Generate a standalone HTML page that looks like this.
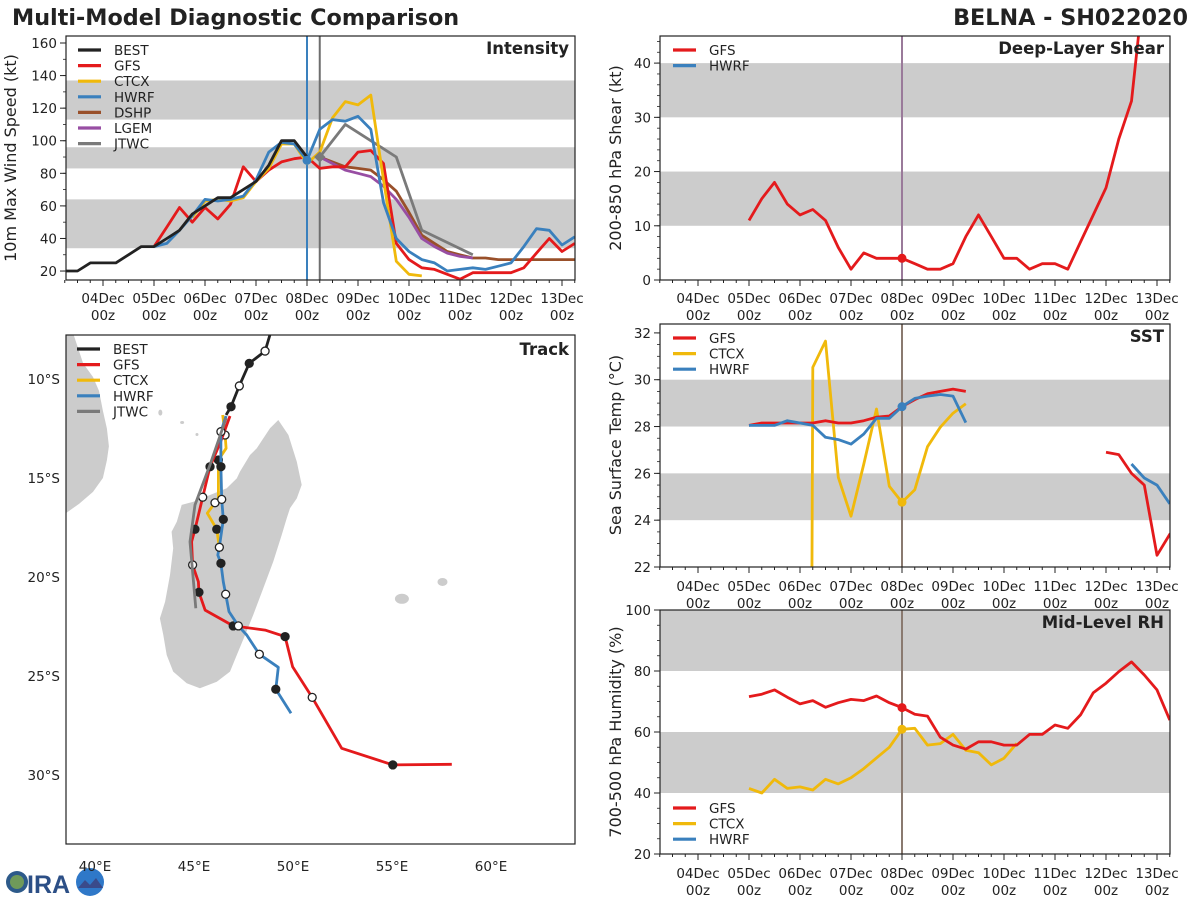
<!DOCTYPE html>
<html><head><meta charset="utf-8"><title>Multi-Model Diagnostic Comparison</title>
<style>
html,body{margin:0;padding:0;background:#fff;width:1200px;height:900px;overflow:hidden;}
svg{display:block;font-family:"DejaVu Sans","Liberation Sans",sans-serif;}
</style></head>
<body>
<svg id="chart" width="1200" height="900" viewBox="0 0 1200 900" xmlns="http://www.w3.org/2000/svg">
<text x="12" y="25" font-size="22.3" font-weight="bold" fill="#222">Multi-Model Diagnostic Comparison</text>
<text x="1188" y="25" font-size="22.3" font-weight="bold" fill="#222" text-anchor="end">BELNA - SH022020</text>
<g>
<circle cx="17" cy="882" r="11" fill="#2d5a8a"/>
<circle cx="17" cy="882" r="7" fill="#6f9a5a"/>
<text x="27" y="893" font-size="25" font-weight="bold" fill="#2c4f86" font-family="Liberation Sans, sans-serif">IRA</text>
<circle cx="90" cy="882" r="14" fill="#2f78c8"/>
<path d="M78 888 L85 880 L90 885 L96 878 L103 888 Z" fill="#3a4a8a"/>
</g>
</svg>
<script>
// ---------- DATA (hours from 03Dec 00z, 6-hourly values) ----------
const dayLabels = ["04Dec","05Dec","06Dec","07Dec","08Dec","09Dec","10Dec","11Dec","12Dec","13Dec"];
const dayHours = [24,48,72,96,120,144,168,192,216,240];
const initHour = 120;

const intTicks = [20,40,60,80,100,120,140,160];
const intBands = [[34,64],[83,96],[113,137]];
const bestStart = 6;
const bestVals = [20,20,25,25,25,30,35,35,40,45,55,60,65,65,70,75,85,100,100,90];
const gfsIntStart = 48;
const gfsIntVals = [35,47,59,50,59,52,61,84,75,82,87,89,90,83,84,84,93,94,86,37,27,22,21,18,15,19,19,19,19,22,31,40,32,37];
const ctcxIntStart = 66;
const ctcxIntVals = [53,63,64,63,65,75,83,98,98,86,93,114,124,122,128,76,26,18,17];
const hwrfIntStart = 48;
const hwrfIntVals = [35,37,45,54,64,63,64,66,76,93,99,98,88,107,113,112,115,107,62,40,32,27,25,20,21,22,21,23,25,35,46,45,36,41];
const dshpStart = 126;
const dshpVals = [90,87,84,83,82,76,69,56,42,37,32,30,28,28,27,27,27,27,27,27,27];
const lgemStart = 126;
const lgemVals = [90,86,82,80,78,72,64,53,40,35,31,29,28];
const jtwcHours = [126,138,150,162,174,198];
const jtwcVals = [90,110,100,90,45,30];

const shearTicks = [0,10,20,30,40];
const shearBands = [[10,20],[30,40]];
const gfsShearStart = 48;
const gfsShearVals = [11,15,18,14,12,13,11,6,2,5,4,4,4,3,2,2,3,8,12,8,4,4,2,3,3,2,7,12,17,26,33,55];

const sstTicks = [22,24,26,28,30,32];
const sstBands = [[24,26],[28,30]];
const gfsSstStart = 48;
const gfsSstVals = [28.05,28.15,28.15,28.15,28.15,28.15,28.25,28.15,28.15,28.25,28.4,28.45,28.85,29.15,29.4,29.5,29.6,29.5,null,null,null,null,null,null,null,null,null,null,26.9,26.8,26.0,25.5,22.5,23.4,23.1];
const hwrfSstStart = 48;
const hwrfSstVals = [28.05,28.05,28.05,28.25,28.15,28.05,27.54,27.44,27.25,27.68,28.35,28.35,28.85,29.2,29.3,29.37,29.3,28.17,null,null,null,null,null,null,null,null,null,null,null,null,26.4,25.8,25.5,24.7];
const ctcxSstStart = 72;
const ctcxSstVals = [-100,30.53,31.65,25.83,24.17,26.4,28.75,25.45,24.77,25.3,27.14,27.97,28.57,28.97];

const rhTicks = [20,40,60,80,100];
const rhBands = [[40,60],[80,100]];
const gfsRhStart = 48;
const gfsRhVals = [71.6,72.4,73.8,71.4,69.2,70.3,68.1,69.6,70.7,70.3,71.8,69.6,68,65.8,65.2,58.3,55.7,54.4,56.8,56.8,55.7,55.7,59.2,59.2,62.3,61.2,65.6,72.9,76,79.8,83,78.7,73.8,63.9];
const ctcxRhStart = 48;
const ctcxRhVals = [41.5,40,44.5,41.5,42,41,44.5,43,45,48,51.5,55,60.9,61.2,55.7,56.2,59.2,54,53.2,49.2,51.4,56.3];

const latTicks = [10,15,20,25,30];
const lonTicks = [40,45,50,55,60];
const bestLon = [48.94,48.59,47.79,47.29,46.87,46.62];
const bestLat = [7.42,8.59,9.21,10.35,11.40,11.82];
const bestMarks = [0,2,1,2,1,0];
const gfsLon = [46.82,46.36,45.81,45.44,45.05,44.88,44.93,45.22,45.25,45.56,46.98,48.59,49.60,49.98,50.97,52.46,55.04,58.02];
const gfsLat = [11.87,13.13,14.43,15.97,17.59,18.22,19.39,20.24,20.77,21.67,22.47,22.68,23.01,24.53,26.08,28.65,29.49,29.46];
const gfsMarks = [0,0,1,2,1,0,2,0,1,0,1,0,1,0,2,0,1,0];
const hwrfLon = [46.62,46.36,46.36,46.40,46.48,46.28,46.20,46.36,46.48,46.60,46.77,47.24,47.66,48.30,49.26,49.13,49.90];
const hwrfLat = [11.87,12.66,14.43,16.08,17.09,18.50,18.89,19.31,20.24,20.87,21.75,22.47,22.93,23.90,24.56,25.67,26.88];
const hwrfMarks = [0,2,1,2,1,2,0,1,0,2,0,2,0,2,0,1,0];
const ctcxLon = [46.45,46.57,46.62,46.23,46.23,46.06,45.67,46.15,46.28];
const ctcxLat = [11.82,12.83,13.50,14.09,16.02,16.25,16.78,17.59,18.50];
const ctcxMarks = [0,2,0,1,0,2,0,1,0];
const jtwcLon = [46.62,45.81,45.05,44.80,45.09];
const jtwcLat = [11.98,14.34,16.36,18.22,21.58];

const madaLon = [49.26,49.77,50.19,50.44,50.19,49.85,49.68,49.43,49.0,48.50,47.99,47.58,47.16,46.82,46.15,45.30,44.63,43.95,43.62,43.45,43.28,43.54,43.79,43.95,43.87,44.13,44.38,44.97,45.81,46.65,47.16,47.32,47.83,48.17,48.50,48.84];
const madaLat = [12.07,12.83,14.18,15.35,16.03,16.53,17.04,17.88,19.23,20.57,21.92,22.93,23.94,24.78,25.29,25.62,25.37,24.78,23.94,22.93,22.09,21.25,19.90,18.55,17.71,17.21,16.36,16.20,15.86,15.52,15.02,14.68,13.84,13.50,13.0,12.49];
const afrLon = [37.0,38.9,39.4,39.9,40.2,40.4,40.6,40.7,40.6,40.4,39.9,39.2,38.5,37.0];
const afrLat = [7.0,7.7,9.2,9.9,10.6,11.6,12.5,13.4,14.1,15.0,15.7,16.3,16.8,17.5];

// ---------- RENDER ----------
const NS = 'http://www.w3.org/2000/svg';
const svg = document.getElementById('chart');
function mk(tag, attrs, parent){
  const e = document.createElementNS(NS, tag);
  for (const k in attrs) e.setAttribute(k, attrs[k]);
  (parent || svg).appendChild(e);
  return e;
}
const C = {best:'#222222', gfs:'#e41a1c', ctcx:'#f0b90b', hwrf:'#3a80bd', dshp:'#99502a', lgem:'#984ea3', jtwc:'#7a7a7a'};

function tX1(t){ return 52 + t*51/24; }
function tX2(t){ return 647 + t*51/24; }

let clipId = 0;
function makePanel(name, x0, y0, x1, y1, vmin, vmax, X){
  const p = {x0, y0, x1, y1, vmin, vmax, X};
  p.Y = v => y1 - (v - vmin) * (y1 - y0) / (vmax - vmin);
  const g = mk('g', {});
  
  
  p.g = g;
  clipId++;
  const cp = mk('clipPath', {id: 'clip' + clipId}, g);
  mk('rect', {x: x0, y: y0, width: x1 - x0, height: y1 - y0}, cp);
  p.inner = mk('g', {'clip-path': 'url(#clip' + clipId + ')'}, g);
  return p;
}
function bands(p, list){
  list.forEach(b => {
    const r = mk('rect', {x: p.x0, y: p.Y(b[1]), width: p.x1 - p.x0, height: p.Y(b[0]) - p.Y(b[1]), fill: '#cccccc'}, p.inner);
    
    
  });
}
function frame(p){
  const r = mk('rect', {x: p.x0, y: p.y0, width: p.x1 - p.x0, height: p.y1 - p.y0, fill: 'none', stroke: '#222', 'stroke-width': 1.2}, p.g);
  
  
}
function timeAxis(p, lblY){
  for (let t = 6; t <= 246; t += 6){
    const x = p.X(t);
    const major = (t % 24 === 0);
    mk('line', {x1: x, x2: x, y1: p.y1, y2: p.y1 + (major ? 6 : 3), stroke: '#222', 'stroke-width': 1}, p.g);
  }
  dayHours.forEach((h, i) => {
    const t1 = mk('text', {x: p.X(h), y: lblY, 'font-size': 13.5, 'text-anchor': 'middle', fill: '#222'}, p.g);
    t1.textContent = dayLabels[i];
    
    
    const t2 = mk('text', {x: p.X(h), y: lblY + 17, 'font-size': 13.5, 'text-anchor': 'middle', fill: '#222'}, p.g);
    t2.textContent = '00z';
    
    
  });
}
function valueAxis(p, ticks, minorStep){
  ticks.forEach(v => {
    const y = p.Y(v);
    mk('line', {x1: p.x0 - 6, x2: p.x0, y1: y, y2: y, stroke: '#222', 'stroke-width': 1}, p.g);
    const t = mk('text', {x: p.x0 - 9, y: y + 5, 'font-size': 13.5, 'text-anchor': 'end', fill: '#222'}, p.g);
    t.textContent = v;
    
    
  });
  if (minorStep){
    for (let v = Math.ceil(p.vmin / minorStep) * minorStep; v <= p.vmax; v += minorStep){
      mk('line', {x1: p.x0 - 3, x2: p.x0, y1: p.Y(v), y2: p.Y(v), stroke: '#222', 'stroke-width': 0.8}, p.g);
    }
  }
}
function yTitle(x, y, text){
  const t = mk('text', {x: x, y: y, 'font-size': 16, 'text-anchor': 'middle', fill: '#222', transform: 'rotate(-90 ' + x + ' ' + y + ')'});
  t.textContent = text;
  
  
}
function panelTitle(p, text){
  const t = mk('text', {x: p.x1 - 6, y: p.y0 + 18, 'font-size': 16.5, 'font-weight': 'bold', 'text-anchor': 'end', fill: '#222'}, p.g);
  t.textContent = text;
  
  
}
function series(p, start, vals, color, name, w){
  let d = '', pen = false;
  vals.forEach((v, i) => {
    if (v === null){ pen = false; return; }
    const x = p.X(start + 6 * i), y = p.Y(v);
    d += (pen ? 'L' : 'M') + x.toFixed(1) + ' ' + y.toFixed(1);
    pen = true;
  });
  const el = mk('path', {d: d, fill: 'none', stroke: color, 'stroke-width': w || 2.8, 'stroke-linejoin': 'round'}, p.inner);
  
  
}
function seriesXY(p, hours, vals, color, name){
  const d = hours.map((h, i) => (i ? 'L' : 'M') + p.X(h).toFixed(1) + ' ' + p.Y(vals[i]).toFixed(1)).join('');
  const el = mk('path', {d: d, fill: 'none', stroke: color, 'stroke-width': 2.8, 'stroke-linejoin': 'round'}, p.inner);
  
  
}
function dot(p, start, vals, color, name){
  const i = (initHour - start) / 6;
  const el = mk('circle', {cx: p.X(initHour), cy: p.Y(vals[i]), r: 4.5, fill: color}, p.inner);
  
  
}
function vline(p, t, color){
  const el = mk('line', {x1: p.X(t), x2: p.X(t), y1: p.y0, y2: p.y1, stroke: color, 'stroke-width': 2}, p.inner);
  
  
}
function legend(x, y, entries, parent){
  entries.forEach((e, i) => {
    const yy = y + i * 15.6;
    const ln = mk('line', {x1: x, x2: x + 23, y1: yy, y2: yy, stroke: e[1], 'stroke-width': 3.2}, parent);
    
    
    const t = mk('text', {x: x + 36, y: yy + 5, 'font-size': 13.5, fill: '#222'}, parent);
    t.textContent = e[0];
    
    
  });
}

// Intensity
const pI = makePanel('intensity-panel', 66, 36, 575, 280, 14.5, 164.3, tX1);
bands(pI, intBands);
vline(pI, 120, '#3a80bd');
vline(pI, 126, '#6e6e6e');
series(pI, dshpStart, dshpVals, C.dshp, 'dshp-intensity-line');
series(pI, lgemStart, lgemVals, C.lgem, 'lgem-intensity-line');
seriesXY(pI, jtwcHours, jtwcVals, C.jtwc, 'jtwc-intensity-line');
series(pI, gfsIntStart, gfsIntVals, C.gfs, 'gfs-intensity-line');
series(pI, ctcxIntStart, ctcxIntVals, C.ctcx, 'ctcx-intensity-line');
series(pI, hwrfIntStart, hwrfIntVals, C.hwrf, 'hwrf-intensity-line');
series(pI, bestStart, bestVals, C.best, 'best-intensity-line');
dot(pI, hwrfIntStart, hwrfIntVals, C.hwrf, 'hwrf-init-marker');
const jd = mk('rect', {x: pI.X(126) - 4, y: pI.Y(jtwcVals[0]) - 4, width: 8, height: 8, fill: C.jtwc, transform: 'rotate(45 ' + pI.X(126) + ' ' + pI.Y(jtwcVals[0]) + ')'}, pI.inner);


frame(pI); timeAxis(pI, 303); valueAxis(pI, intTicks, 10);
panelTitle(pI, 'Intensity');
legend(78, 50, [['BEST',C.best],['GFS',C.gfs],['CTCX',C.ctcx],['HWRF',C.hwrf],['DSHP',C.dshp],['LGEM',C.lgem],['JTWC',C.jtwc]], pI.g);
yTitle(16, 158, '10m Max Wind Speed (kt)');

// Shear
const pS = makePanel('shear-panel', 660, 36, 1170, 280, 0, 45, tX2);
bands(pS, shearBands);
vline(pS, 120, '#9a7a9a');
series(pS, gfsShearStart, gfsShearVals, C.gfs, 'gfs-shear-line');
dot(pS, gfsShearStart, gfsShearVals, C.gfs, 'gfs-shear-init-marker');
frame(pS); timeAxis(pS, 303); valueAxis(pS, shearTicks, 2);
panelTitle(pS, 'Deep-Layer Shear');
legend(673, 50, [['GFS',C.gfs],['HWRF',C.hwrf]], pS.g);
yTitle(621, 158, '200-850 hPa Shear (kt)');

// SST
const pT = makePanel('sst-panel', 660, 324, 1170, 567, 22, 32.38, tX2);
bands(pT, sstBands);
vline(pT, 120, '#8a7a70');
series(pT, ctcxSstStart, ctcxSstVals, C.ctcx, 'ctcx-sst-line');
series(pT, gfsSstStart, gfsSstVals, C.gfs, 'gfs-sst-line');
series(pT, hwrfSstStart, hwrfSstVals, C.hwrf, 'hwrf-sst-line');
dot(pT, hwrfSstStart, hwrfSstVals, C.hwrf, 'hwrf-sst-init-marker');
dot(pT, ctcxSstStart, ctcxSstVals, C.ctcx, 'ctcx-sst-init-marker');
frame(pT); timeAxis(pT, 591); valueAxis(pT, sstTicks, 0.5);
panelTitle(pT, 'SST');
legend(673, 338, [['GFS',C.gfs],['CTCX',C.ctcx],['HWRF',C.hwrf]], pT.g);
yTitle(621, 445, 'Sea Surface Temp (°C)');

// RH
const pR = makePanel('rh-panel', 660, 610, 1170, 854, 20, 100, tX2);
bands(pR, rhBands);
vline(pR, 120, '#8a7a70');
series(pR, ctcxRhStart, ctcxRhVals, C.ctcx, 'ctcx-rh-line');
series(pR, gfsRhStart, gfsRhVals, C.gfs, 'gfs-rh-line');
dot(pR, gfsRhStart, gfsRhVals, C.gfs, 'gfs-rh-init-marker');
dot(pR, ctcxRhStart, ctcxRhVals, C.ctcx, 'ctcx-rh-init-marker');
frame(pR); timeAxis(pR, 878); valueAxis(pR, rhTicks, 5);
panelTitle(pR, 'Mid-Level RH');
legend(673, 808, [['GFS',C.gfs],['CTCX',C.ctcx],['HWRF',C.hwrf]], pR.g);
yTitle(621, 732, '700-500 hPa Humidity (%)');

// Track map
const pM = {x0: 66, y0: 335, x1: 575, y1: 844};
const LX = lon => 95 + (lon - 40) * 19.8;
const LY = lat => 379 + (lat - 10) * 19.8;
const gM = mk('g', {});


clipId++;
const cpM = mk('clipPath', {id: 'clip' + clipId}, gM);
mk('rect', {x: pM.x0, y: pM.y0, width: pM.x1 - pM.x0, height: pM.y1 - pM.y0}, cpM);
const mIn = mk('g', {'clip-path': 'url(#clip' + clipId + ')'}, gM);
function land(lons, lats, name){
  const d = lons.map((l, i) => (i ? 'L' : 'M') + LX(l).toFixed(1) + ' ' + LY(lats[i]).toFixed(1)).join('') + 'Z';
  const el = mk('path', {d: d, fill: '#cccccc'}, mIn);
  
  
}
land(madaLon, madaLat, 'madagascar-landmass');
land(afrLon.concat([37.0]), afrLat.concat([17.5]), 'africa-landmass');
[[57.55,20.25,5,4],[55.5,21.1,7,5],[43.3,11.7,2,3],[44.4,12.2,2,1.5],[45.15,12.8,1.5,1.5]].forEach(s => {
  const el = mk('ellipse', {cx: LX(s[0]), cy: LY(s[1]), rx: s[2], ry: s[3], fill: '#cccccc'}, mIn);
  
  
});
function track(lons, lats, marks, color, name){
  const d = lons.map((l, i) => (i ? 'L' : 'M') + LX(l).toFixed(1) + ' ' + LY(lats[i]).toFixed(1)).join('');
  const el = mk('path', {d: d, fill: 'none', stroke: color, 'stroke-width': 2.8, 'stroke-linejoin': 'round'}, mIn);
  
  
  if (!marks) return;
  marks.forEach((m, i) => {
    if (!m) return;
    const c = mk('circle', {cx: LX(lons[i]), cy: LY(lats[i]), r: 4, fill: m === 1 ? '#222' : '#fff', stroke: '#222', 'stroke-width': 1.3}, mIn);
    
    
  });
}
track(ctcxLon, ctcxLat, ctcxMarks, C.ctcx, 'ctcx-track');
track(gfsLon, gfsLat, gfsMarks, C.gfs, 'gfs-track');
track(hwrfLon, hwrfLat, hwrfMarks, C.hwrf, 'hwrf-track');
track(jtwcLon, jtwcLat, null, C.jtwc, 'jtwc-track');
track(bestLon, bestLat, bestMarks, C.best, 'best-track');
const fr = mk('rect', {x: pM.x0, y: pM.y0, width: pM.x1 - pM.x0, height: pM.y1 - pM.y0, fill: 'none', stroke: '#222', 'stroke-width': 1.2}, gM);


latTicks.forEach(v => {
  const t = mk('text', {x: 60, y: LY(v) + 5, 'font-size': 13.5, 'text-anchor': 'end', fill: '#222'}, gM);
  t.textContent = v + '°S';
  
  
});
lonTicks.forEach(v => {
  const t = mk('text', {x: LX(v), y: 871, 'font-size': 13.5, 'text-anchor': 'middle', fill: '#222'}, gM);
  t.textContent = v + '°E';
  
  
});
const tt = mk('text', {x: 569, y: 355, 'font-size': 16.5, 'font-weight': 'bold', 'text-anchor': 'end', fill: '#222'}, gM);
tt.textContent = 'Track';


legend(77, 349, [['BEST',C.best],['GFS',C.gfs],['CTCX',C.ctcx],['HWRF',C.hwrf],['JTWC',C.jtwc]], gM);
</script>
</body></html>
